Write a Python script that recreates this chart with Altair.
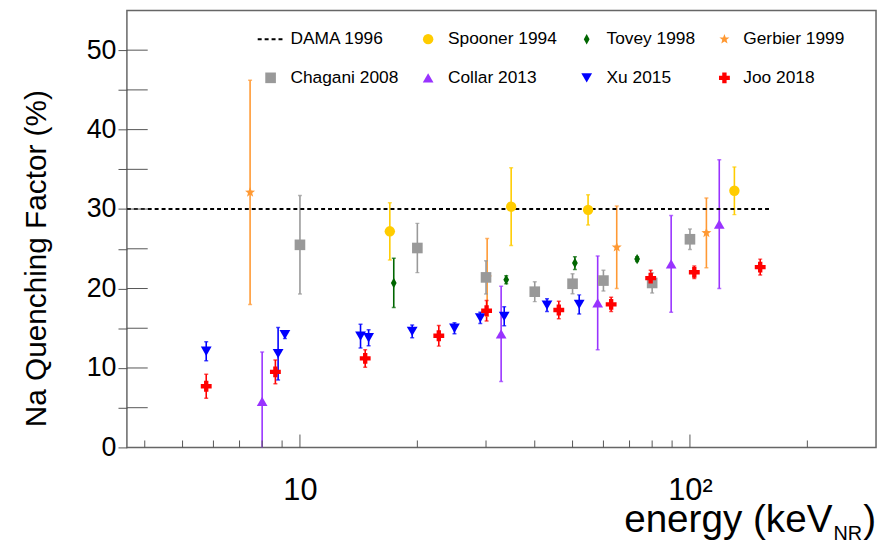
import math
import altair as alt
import pandas as pd

# ---------------- data ----------------
series_names = ["Spooner 1994", "Tovey 1998", "Gerbier 1999", "Chagani 2008",
                "Collar 2013", "Xu 2015", "Joo 2018"]

spooner_e = [17.0, 34.8, 54.8, 130.0]
spooner_q = [27.2, 30.3, 29.9, 32.3]
spooner_err = [3.6, 4.9, 1.9, 3.0]

tovey_e = [17.4, 33.8, 50.7, 73.2]
tovey_q = [20.7, 21.1, 23.2, 23.7]
tovey_err = [3.1, 0.5, 0.8, 0.3]

gerbier_e = [7.45, 30.2, 64.9, 110.2]
gerbier_q = [32.1, 21.4, 25.2, 27.0]
gerbier_err = [14.1, 4.9, 5.2, 4.4]

chagani_e = [10, 20, 30, 40, 50, 60, 80, 100]
chagani_q = [25.5, 25.1, 21.4, 19.6, 20.6, 21.0, 20.7, 26.2]
chagani_err = [6.2, 3.1, 2.1, 1.25, 1.25, 1.3, 1.25, 1.3]

collar_e = [8.0, 32.8, 58.0, 89.5, 118.9]
collar_q = [5.8, 14.3, 18.2, 23.1, 28.1]
collar_err = [6.2, 6.0, 5.9, 6.1, 8.1]

xu_e = [5.75, 8.79, 9.15, 14.3, 15.0, 19.4, 24.9, 29.0, 33.4, 43.0, 52.0]
xu_q = [12.1, 11.8, 14.2, 14.0, 13.8, 14.6, 15.0, 16.3, 16.5, 17.9, 18.0]
xu_err = [1.2, 3.3, 0.5, 1.5, 1.0, 0.8, 0.7, 0.7, 1.2, 0.8, 1.2]

joo_e = [5.75, 8.65, 14.7, 22.7, 30.1, 46.1, 62.8, 79.3, 102.6, 151.4]
joo_q = [7.7, 9.5, 11.2, 14.05, 17.2, 17.3, 18.0, 21.3, 22.05, 22.7]
joo_err = [1.5, 1.5, 1.1, 1.3, 1.3, 1.1, 0.9, 1.0, 0.8, 1.0]

dama_label = "DAMA 1996"
dama_e = [3.6, 160.0]
dama_q = [30.0, 30.0]

y_tick_values = [0, 5, 10, 15, 20, 25, 30, 35, 40, 45, 50]
x_minor_ticks = [4, 5, 6, 7, 8, 9, 20, 30, 40, 50, 60, 70, 80, 90, 200]
x_major_ticks = [10, 100]

# ---------------- styles ----------------
def star_path(n=5, r_in=0.42):
    pts = []
    for k in range(2 * n):
        r = 1.0 if k % 2 == 0 else r_in
        a = -math.pi / 2 + k * math.pi / n
        pts.append(f"{r * math.cos(a):.3f},{r * math.sin(a):.3f}")
    return "M" + "L".join(pts) + "Z"


colors = {"Spooner 1994": "#FFCC00", "Tovey 1998": "#006600", "Gerbier 1999": "#FF9933",
          "Chagani 2008": "#999999", "Collar 2013": "#9933FF", "Xu 2015": "#0000FF",
          "Joo 2018": "#FF0000"}
shapes = {"Spooner 1994": "circle", "Tovey 1998": "M0,-1L0.55,0L0,1L-0.55,0Z",
          "Gerbier 1999": star_path(), "Chagani 2008": "square", "Collar 2013": "triangle-up",
          "Xu 2015": "triangle-down", "Joo 2018": "cross"}
sizes = {"Spooner 1994": 110, "Tovey 1998": 120, "Gerbier 1999": 150, "Chagani 2008": 130,
         "Collar 2013": 115, "Xu 2015": 130, "Joo 2018": 120}

raw = [("Spooner 1994", spooner_e, spooner_q, spooner_err),
       ("Tovey 1998", tovey_e, tovey_q, tovey_err),
       ("Gerbier 1999", gerbier_e, gerbier_q, gerbier_err),
       ("Chagani 2008", chagani_e, chagani_q, chagani_err),
       ("Collar 2013", collar_e, collar_q, collar_err),
       ("Xu 2015", xu_e, xu_q, xu_err),
       ("Joo 2018", joo_e, joo_q, joo_err)]
rows = []
for name, es, qs, errs in raw:
    for e, q, er in zip(es, qs, errs):
        rows.append({"series": name, "energy": e, "qf": q, "lo": q - er, "hi": q + er})
df = pd.DataFrame(rows)

W, H = 756, 441
FONT = "Liberation Sans, Arial, Helvetica"
NARROW = "Liberation Sans Narrow, Liberation Sans, Arial"

xscale = alt.Scale(type="log", domain=[3.6, 300], nice=False)
yscale = alt.Scale(domain=[0, 55], nice=False, zero=False)

x_axis = alt.Axis(values=x_major_ticks,
                  labelExpr="datum.value == 10 ? '10' : '10²'",
                  ticks=False, tickSize=0, domain=False, grid=False, title=None,
                  labelFontSize=31, labelFont=NARROW, labelColor="black",
                  labelPadding=29, labelBaseline="top", labelFlush=False,
                  labelOverlap=False, labelBound=False)
y_axis = alt.Axis(values=y_tick_values,
                  labelExpr="datum.value % 10 == 0 ? datum.label : ''",
                  tickSize=9, tickColor="#555555", tickWidth=1, domain=False, grid=False,
                  labelFontSize=27, labelFont=FONT, labelColor="black", labelPadding=2,
                  labelFlush=False, labelOverlap=False, labelBound=False,
                  title="Na Quenching Factor (%)", titleFontSize=30, titleFont=FONT,
                  titleFontWeight="normal", titleColor="black", titleAngle=270,
                  titleX=-82, titleY=250, titleAlign="center", titleBaseline="alphabetic")


def X(field):
    return alt.X(field, type="quantitative", scale=xscale, axis=x_axis)


def Y(field):
    return alt.Y(field, type="quantitative", scale=yscale, axis=y_axis)


color_enc = alt.Color("series:N", scale=alt.Scale(domain=series_names,
                      range=[colors[s] for s in series_names]), legend=None)
shape_enc = alt.Shape("series:N", scale=alt.Scale(domain=series_names,
                      range=[shapes[s] for s in series_names]), legend=None)
size_enc = alt.Size("series:N", scale=alt.Scale(domain=series_names,
                    range=[sizes[s] for s in series_names]), legend=None)

base = alt.Chart(df)

err_rules = base.mark_rule(strokeWidth=1.6, clip=True).encode(
    x=X("energy"), y=Y("lo"), y2="hi", color=color_enc)
cap_lo = base.mark_tick(orient="horizontal", size=4, thickness=1.5, clip=True).encode(
    x=X("energy"), y=Y("lo"), color=color_enc)
cap_hi = base.mark_tick(orient="horizontal", size=4, thickness=1.5, clip=True).encode(
    x=X("energy"), y=Y("hi"), color=color_enc)
points = base.mark_point(filled=True, opacity=1, strokeWidth=0).encode(
    x=X("energy"), y=Y("qf"), color=color_enc, shape=shape_enc, size=size_enc)

dama_df = pd.DataFrame({"energy": dama_e, "qf": dama_q})
dama = alt.Chart(dama_df).mark_line(color="black", strokeDash=[4, 3], strokeWidth=2,
                                    clip=True).encode(x=X("energy"), y=Y("qf"))

# inward ticks (ROOT style)
ytick_df = pd.DataFrame({"v": y_tick_values[1:]})
ytick_in = alt.Chart(ytick_df).mark_rule(color="#555555", strokeWidth=1).encode(
    y=Y("v"), x=alt.value(0), x2=alt.value(21))
xminor_df = pd.DataFrame({"v": x_minor_ticks})
xminor_in = alt.Chart(xminor_df).mark_rule(color="#555555", strokeWidth=1).encode(
    x=X("v"), y=alt.value(H), y2=alt.value(H - 7))
xmajor_df = pd.DataFrame({"v": x_major_ticks})
xmajor_in = alt.Chart(xmajor_df).mark_rule(color="#555555", strokeWidth=1).encode(
    x=X("v"), y=alt.value(H), y2=alt.value(H - 13))

# ---------------- legend (2 rows x 4 columns) ----------------
legend_order = [dama_label, "Spooner 1994", "Tovey 1998", "Gerbier 1999",
                "Chagani 2008", "Collar 2013", "Xu 2015", "Joo 2018"]
col_sym = [145, 304, 464, 603]
col_txt = [165, 324, 484, 622]
row_y = [29, 68]
leg_rows = []
for i, name in enumerate(legend_order):
    c, r = i % 4, i // 4
    leg_rows.append({"series": name, "sx": col_sym[c], "tx": col_txt[c], "ly": row_y[r]})
leg_df = pd.DataFrame(leg_rows)

leg_sym = alt.Chart(leg_df[leg_df.series != dama_label]).mark_point(
    filled=True, opacity=1, strokeWidth=0).encode(
    x=alt.X("sx:Q", scale=None, axis=None), y=alt.Y("ly:Q", scale=None, axis=None),
    color=color_enc, shape=shape_enc, size=size_enc)
leg_txt = alt.Chart(leg_df).mark_text(align="left", baseline="middle", fontSize=17.5,
                                       font=FONT, color="black").encode(
    x=alt.X("tx:Q", scale=None, axis=None), y=alt.Y("ly:Q", scale=None, axis=None),
    text="series:N")
leg_line = alt.Chart(leg_df[leg_df.series == dama_label]).mark_rule(
    color="black", strokeDash=[4, 3], strokeWidth=2).encode(
    x=alt.value(col_sym[0] - 13), x2=alt.value(col_sym[0] + 14),
    y=alt.Y("ly:Q", scale=None, axis=None))

# ---------------- x title with subscript ----------------
title_df = pd.DataFrame({"t": ["energy (keV"]})
xt_main = alt.Chart(title_df).mark_text(align="right", baseline="alphabetic", fontSize=39,
                                        font=FONT, color="black").encode(
    x=alt.value(712), y=alt.value(526), text="t:N")
xt_sub = alt.Chart(pd.DataFrame({"t": ["NR"]})).mark_text(
    align="left", baseline="alphabetic", fontSize=20, font=FONT, color="black").encode(
    x=alt.value(713), y=alt.value(534), text="t:N")
xt_close = alt.Chart(pd.DataFrame({"t": [")"]})).mark_text(
    align="left", baseline="alphabetic", fontSize=39, font=FONT, color="black").encode(
    x=alt.value(743), y=alt.value(526), text="t:N")

chart = alt.layer(
    err_rules, cap_lo, cap_hi, dama, ytick_in, xminor_in, xmajor_in, points,
    leg_line, leg_sym, leg_txt, xt_main, xt_sub, xt_close
).properties(
    width=W, height=H,
    autosize=alt.AutoSizeParams(type="none"),
    padding={"left": 120, "top": 0, "right": 3, "bottom": 95},
).configure(font="Liberation Sans").configure_view(stroke="#666666", strokeWidth=1.5)

chart.save("out.html", embed_options={"renderer": "svg", "actions": False})
